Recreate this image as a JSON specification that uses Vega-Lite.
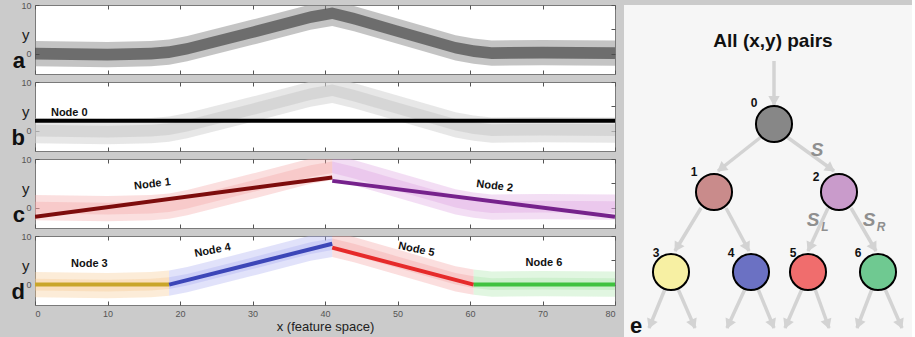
{
  "$schema": "https://vega.github.io/schema/vega-lite/v6.json",
  "padding": {"left": 11, "top": 0, "right": 0, "bottom": 0},
  "background": "#cbcbcb",
  "datasets": {
    "cloud": [
      {"x": 0, "lo": -2.6, "hi": 2.6, "ilo": -1.2, "ihi": 1.2, "c": "1", "d": "3"},
      {"x": 10, "lo": -2.8, "hi": 2.4, "ilo": -1.4, "ihi": 1.0, "c": "1", "d": "3"},
      {"x": 16, "lo": -2.6, "hi": 2.6, "ilo": -1.2, "ihi": 1.2, "c": "1", "d": "3"},
      {"x": 18.5, "lo": -2.3, "hi": 2.9, "ilo": -0.9, "ihi": 1.5, "c": "1", "d": "3"},
      {"x": 18.5, "lo": -2.3, "hi": 2.9, "ilo": -0.9, "ihi": 1.5, "c": "1", "d": "4"},
      {"x": 21, "lo": -1.6, "hi": 3.6, "ilo": -0.2, "ihi": 2.2, "c": "1", "d": "4"},
      {"x": 30, "lo": 1.8, "hi": 7.0, "ilo": 3.2, "ihi": 5.6, "c": "1", "d": "4"},
      {"x": 38, "lo": 4.9, "hi": 10.1, "ilo": 6.3, "ihi": 8.7, "c": "1", "d": "4"},
      {"x": 41, "lo": 5.7, "hi": 10.9, "ilo": 7.1, "ihi": 9.5, "c": "1", "d": "4"},
      {"x": 41, "lo": 5.7, "hi": 10.9, "ilo": 7.1, "ihi": 9.5, "c": "2", "d": "5"},
      {"x": 44, "lo": 4.6, "hi": 9.8, "ilo": 6.0, "ihi": 8.4, "c": "2", "d": "5"},
      {"x": 50, "lo": 2.0, "hi": 7.2, "ilo": 3.4, "ihi": 5.8, "c": "2", "d": "5"},
      {"x": 58, "lo": -1.4, "hi": 3.8, "ilo": 0.0, "ihi": 2.4, "c": "2", "d": "5"},
      {"x": 60.5, "lo": -2.1, "hi": 3.1, "ilo": -0.7, "ihi": 1.7, "c": "2", "d": "5"},
      {"x": 60.5, "lo": -2.1, "hi": 3.1, "ilo": -0.7, "ihi": 1.7, "c": "2", "d": "6"},
      {"x": 63, "lo": -2.5, "hi": 2.7, "ilo": -1.1, "ihi": 1.3, "c": "2", "d": "6"},
      {"x": 70, "lo": -2.4, "hi": 2.8, "ilo": -1.0, "ihi": 1.4, "c": "2", "d": "6"},
      {"x": 80, "lo": -2.5, "hi": 2.7, "ilo": -1.1, "ihi": 1.3, "c": "2", "d": "6"}
    ],
    "fits": [
      {"node": "0", "x": 0, "y": 2.0},
      {"node": "0", "x": 80, "y": 2.0},
      {"node": "1", "x": 0, "y": -1.9},
      {"node": "1", "x": 41, "y": 6.2},
      {"node": "2", "x": 41, "y": 5.5},
      {"node": "2", "x": 80, "y": -1.9},
      {"node": "3", "x": 0, "y": 0},
      {"node": "3", "x": 18.5, "y": 0},
      {"node": "4", "x": 18.5, "y": 0},
      {"node": "4", "x": 41, "y": 8.4},
      {"node": "5", "x": 41, "y": 7.6},
      {"node": "5", "x": 60.5, "y": 0},
      {"node": "6", "x": 60.5, "y": 0},
      {"node": "6", "x": 80, "y": 0}
    ],
    "labels": [
      {"t": "Node 0", "x": 2.2, "y": 3.7},
      {"t": "Node 1", "x": 16.2, "y": 4.8},
      {"t": "Node 2", "x": 63.4, "y": 4.4},
      {"t": "Node 3", "x": 7.5, "y": 4.2},
      {"t": "Node 4", "x": 24.5, "y": 7.0},
      {"t": "Node 5", "x": 52.6, "y": 7.2},
      {"t": "Node 6", "x": 70.2, "y": 4.4}
    ],
    "tnodes": [
      {"id": "0", "x": 150, "y": 119},
      {"id": "1", "x": 90, "y": 187},
      {"id": "2", "x": 215, "y": 187},
      {"id": "3", "x": 47, "y": 267},
      {"id": "4", "x": 127, "y": 267},
      {"id": "5", "x": 184, "y": 267},
      {"id": "6", "x": 254, "y": 267}
    ],
    "tnlabels": [
      {"t": "0", "x": 130, "y": 98},
      {"t": "1", "x": 70, "y": 167},
      {"t": "2", "x": 192, "y": 172},
      {"t": "3", "x": 32, "y": 248},
      {"t": "4", "x": 107, "y": 248},
      {"t": "5", "x": 169, "y": 248},
      {"t": "6", "x": 234, "y": 248}
    ],
    "tarrows": [
      {"x": 150, "y": 56, "x2": 150, "y2": 100},
      {"x": 137, "y": 132, "x2": 94, "y2": 166},
      {"x": 163, "y": 132, "x2": 210, "y2": 166},
      {"x": 77, "y": 203, "x2": 51, "y2": 246},
      {"x": 102, "y": 203, "x2": 125, "y2": 246},
      {"x": 204, "y": 203, "x2": 184, "y2": 246},
      {"x": 227, "y": 203, "x2": 252, "y2": 246},
      {"x": 41, "y": 284, "x2": 25, "y2": 323},
      {"x": 54, "y": 284, "x2": 71, "y2": 323},
      {"x": 121, "y": 284, "x2": 103, "y2": 323},
      {"x": 134, "y": 284, "x2": 150, "y2": 323},
      {"x": 178, "y": 284, "x2": 161, "y2": 323},
      {"x": 191, "y": 284, "x2": 205, "y2": 323},
      {"x": 248, "y": 284, "x2": 233, "y2": 323},
      {"x": 261, "y": 284, "x2": 278, "y2": 323}
    ]
  },
  "spacing": 5,
  "resolve": {"scale": {"fill": "independent", "stroke": "independent"}},
  "hconcat": [
    {
      "spacing": 2,
      "resolve": {"scale": {"fill": "independent", "stroke": "independent"}},
      "vconcat": [
        {
          "width": 580, "height": 69,
          "title": {"text": "a"},
          "resolve": {"axis": {"x": "independent", "y": "independent"}},
          "layer": [
            {
              "encoding": {
                "x": {"field": "x", "type": "quantitative", "scale": {"domain": [0, 80], "nice": false}, "axis": {"values": [0, 10, 20, 30, 40, 50, 60, 70, 80], "labels": false, "title": null}}
              },
              "layer": [
                {
                  "data": {"name": "cloud"},
                  "mark": {"type": "area", "color": "#8a8a8a", "opacity": 0.5, "clip": true},
                  "encoding": {
                    "y": {"field": "lo", "type": "quantitative", "title": "y", "scale": {"domain": [-4.2, 10], "nice": false}, "axis": {"values": [0, 5, 10]}},
                    "y2": {"field": "hi"}
                  }
                },
                {
                  "data": {"name": "cloud"},
                  "mark": {"type": "area", "color": "#333333", "opacity": 0.6, "clip": true},
                  "encoding": {
                    "y": {"field": "ilo", "type": "quantitative", "title": "y"},
                    "y2": {"field": "ihi"}
                  }
                }
              ]
            },
            {
              "data": {"name": "fits"},
              "mark": {"type": "point", "opacity": 0},
              "encoding": {
                "x": {"field": "x", "type": "quantitative", "axis": {"orient": "top", "values": [0, 10, 20, 30, 40, 50, 60, 70, 80], "labels": false, "title": null}},
                "y": {"field": "y", "type": "quantitative", "axis": {"orient": "right", "values": [0, 5, 10], "labels": false, "title": null}}
              }
            }
          ]
        },
        {
          "width": 580, "height": 69,
          "title": {"text": "b"},
          "resolve": {"axis": {"x": "independent", "y": "independent"}},
          "layer": [
            {
              "encoding": {
                "x": {"field": "x", "type": "quantitative", "scale": {"domain": [0, 80], "nice": false}, "axis": {"values": [0, 10, 20, 30, 40, 50, 60, 70, 80], "labels": false, "title": null}}
              },
              "layer": [
                {
                  "data": {"name": "cloud"},
                  "mark": {"type": "area", "color": "#d4d4d4", "opacity": 0.55, "clip": true},
                  "encoding": {
                    "y": {"field": "lo", "type": "quantitative", "title": "y", "scale": {"domain": [-4.2, 10], "nice": false}, "axis": {"values": [0, 5, 10]}},
                    "y2": {"field": "hi"}
                  }
                },
                {
                  "data": {"name": "cloud"},
                  "mark": {"type": "area", "color": "#bdbdbd", "opacity": 0.4, "clip": true},
                  "encoding": {
                    "y": {"field": "ilo", "type": "quantitative", "title": "y"},
                    "y2": {"field": "ihi"}
                  }
                },
                {
                  "data": {"name": "fits"},
                  "transform": [{"filter": "datum.node == '0'"}],
                  "mark": {"type": "line", "color": "#000000", "strokeWidth": 4, "clip": true},
                  "encoding": {
                    "y": {"field": "y", "type": "quantitative", "title": "y"}
                  }
                },
                {
                  "data": {"name": "labels"},
                  "transform": [{"filter": "datum.t == 'Node 0'"}],
                  "mark": {"type": "text", "font": "Liberation Sans", "fontWeight": "bold", "fontSize": 11, "align": "left", "color": "#111"},
                  "encoding": {
                    "y": {"field": "y", "type": "quantitative", "title": "y"},
                    "text": {"field": "t"}
                  }
                }
              ]
            },
            {
              "data": {"name": "fits"},
              "mark": {"type": "point", "opacity": 0},
              "encoding": {
                "x": {"field": "x", "type": "quantitative", "axis": {"orient": "top", "values": [0, 10, 20, 30, 40, 50, 60, 70, 80], "labels": false, "title": null}},
                "y": {"field": "y", "type": "quantitative", "axis": {"orient": "right", "values": [0, 5, 10], "labels": false, "title": null}}
              }
            }
          ]
        },
        {
          "width": 580, "height": 69,
          "title": {"text": "c"},
          "resolve": {"axis": {"x": "independent", "y": "independent"}},
          "layer": [
            {
              "encoding": {
                "x": {"field": "x", "type": "quantitative", "scale": {"domain": [0, 80], "nice": false}, "axis": {"values": [0, 10, 20, 30, 40, 50, 60, 70, 80], "labels": false, "title": null}}
              },
              "layer": [
                {
                  "data": {"name": "cloud"},
                  "mark": {"type": "area", "opacity": 0.35, "clip": true},
                  "encoding": {
                    "y": {"field": "lo", "type": "quantitative", "title": "y", "scale": {"domain": [-4.2, 10], "nice": false}, "axis": {"values": [0, 5, 10]}},
                    "y2": {"field": "hi"},
                    "fill": {"field": "c", "type": "nominal", "scale": {"domain": ["1", "2"], "range": ["#f4a4a4", "#dea0e0"]}, "legend": null}
                  }
                },
                {
                  "data": {"name": "cloud"},
                  "mark": {"type": "area", "opacity": 0.35, "clip": true},
                  "encoding": {
                    "y": {"field": "ilo", "type": "quantitative", "title": "y"},
                    "y2": {"field": "ihi"},
                    "fill": {"field": "c", "type": "nominal", "legend": null}
                  }
                },
                {
                  "data": {"name": "fits"},
                  "transform": [{"filter": "datum.node == '1' || datum.node == '2'"}],
                  "mark": {"type": "line", "strokeWidth": 4, "clip": true},
                  "encoding": {
                    "y": {"field": "y", "type": "quantitative", "title": "y"},
                    "stroke": {"field": "node", "type": "nominal", "scale": {"domain": ["1", "2"], "range": ["#7d0c0c", "#76228c"]}, "legend": null}
                  }
                },
                {
                  "data": {"name": "labels"},
                  "transform": [{"filter": "datum.t == 'Node 1'"}],
                  "mark": {"type": "text", "font": "Liberation Sans", "fontWeight": "bold", "fontSize": 11, "angle": -7, "color": "#111"},
                  "encoding": {
                    "y": {"field": "y", "type": "quantitative", "title": "y"},
                    "text": {"field": "t"}
                  }
                },
                {
                  "data": {"name": "labels"},
                  "transform": [{"filter": "datum.t == 'Node 2'"}],
                  "mark": {"type": "text", "font": "Liberation Sans", "fontWeight": "bold", "fontSize": 11, "angle": 7, "color": "#111"},
                  "encoding": {
                    "y": {"field": "y", "type": "quantitative", "title": "y"},
                    "text": {"field": "t"}
                  }
                }
              ]
            },
            {
              "data": {"name": "fits"},
              "mark": {"type": "point", "opacity": 0},
              "encoding": {
                "x": {"field": "x", "type": "quantitative", "axis": {"orient": "top", "values": [0, 10, 20, 30, 40, 50, 60, 70, 80], "labels": false, "title": null}},
                "y": {"field": "y", "type": "quantitative", "axis": {"orient": "right", "values": [0, 5, 10], "labels": false, "title": null}}
              }
            }
          ]
        },
        {
          "width": 580, "height": 69,
          "title": {"text": "d"},
          "resolve": {"axis": {"x": "independent", "y": "independent"}},
          "layer": [
            {
              "encoding": {
                "x": {"field": "x", "type": "quantitative", "scale": {"domain": [0, 80], "nice": false}, "axis": {"values": [0, 10, 20, 30, 40, 50, 60, 70, 80], "title": "x (feature space)"}}
              },
              "layer": [
                {
                  "data": {"name": "cloud"},
                  "mark": {"type": "area", "opacity": 0.35, "clip": true},
                  "encoding": {
                    "y": {"field": "lo", "type": "quantitative", "title": "y", "scale": {"domain": [-4.2, 10], "nice": false}, "axis": {"values": [0, 5, 10]}},
                    "y2": {"field": "hi"},
                    "fill": {"field": "d", "type": "nominal", "scale": {"domain": ["3", "4", "5", "6"], "range": ["#f6c890", "#a8acf0", "#f4a0a0", "#a8e6a8"]}, "legend": null}
                  }
                },
                {
                  "data": {"name": "cloud"},
                  "mark": {"type": "area", "opacity": 0.35, "clip": true},
                  "encoding": {
                    "y": {"field": "ilo", "type": "quantitative", "title": "y"},
                    "y2": {"field": "ihi"},
                    "fill": {"field": "d", "type": "nominal", "legend": null}
                  }
                },
                {
                  "data": {"name": "fits"},
                  "transform": [{"filter": "datum.node >= '3'"}],
                  "mark": {"type": "line", "strokeWidth": 4, "clip": true},
                  "encoding": {
                    "y": {"field": "y", "type": "quantitative", "title": "y"},
                    "stroke": {"field": "node", "type": "nominal", "scale": {"domain": ["3", "4", "5", "6"], "range": ["#c9a52a", "#3c46b8", "#e62a2a", "#3fc23f"]}, "legend": null}
                  }
                },
                {
                  "data": {"name": "labels"},
                  "transform": [{"filter": "datum.t == 'Node 3' || datum.t == 'Node 6'"}],
                  "mark": {"type": "text", "font": "Liberation Sans", "fontWeight": "bold", "fontSize": 11, "color": "#111"},
                  "encoding": {
                    "y": {"field": "y", "type": "quantitative", "title": "y"},
                    "text": {"field": "t"}
                  }
                },
                {
                  "data": {"name": "labels"},
                  "transform": [{"filter": "datum.t == 'Node 4'"}],
                  "mark": {"type": "text", "font": "Liberation Sans", "fontWeight": "bold", "fontSize": 11, "angle": -11, "color": "#111"},
                  "encoding": {
                    "y": {"field": "y", "type": "quantitative", "title": "y"},
                    "text": {"field": "t"}
                  }
                },
                {
                  "data": {"name": "labels"},
                  "transform": [{"filter": "datum.t == 'Node 5'"}],
                  "mark": {"type": "text", "font": "Liberation Sans", "fontWeight": "bold", "fontSize": 11, "angle": 12, "color": "#111"},
                  "encoding": {
                    "y": {"field": "y", "type": "quantitative", "title": "y"},
                    "text": {"field": "t"}
                  }
                }
              ]
            },
            {
              "data": {"name": "fits"},
              "mark": {"type": "point", "opacity": 0},
              "encoding": {
                "x": {"field": "x", "type": "quantitative", "axis": {"orient": "top", "values": [0, 10, 20, 30, 40, 50, 60, 70, 80], "labels": false, "title": null}},
                "y": {"field": "y", "type": "quantitative", "axis": {"orient": "right", "values": [0, 5, 10], "labels": false, "title": null}}
              }
            }
          ]
        }
      ]
    },
    {
      "width": 288, "height": 337,
      "view": {"fill": "#f6f6f6", "stroke": null},
      "layer": [
        {
          "data": {"name": "tarrows"},
          "mark": {"type": "rule", "color": "#d3d3d3", "strokeWidth": 3.5},
          "encoding": {
            "x": {"field": "x", "type": "quantitative", "scale": {"domain": [0, 288], "nice": false, "zero": false}, "axis": null},
            "y": {"field": "y", "type": "quantitative", "scale": {"domain": [0, 337], "nice": false, "zero": false, "reverse": true}, "axis": null},
            "x2": {"field": "x2"},
            "y2": {"field": "y2"}
          }
        },
        {
          "data": {"name": "tarrows"},
          "transform": [
            {"calculate": "sqrt((datum.x2-datum.x)*(datum.x2-datum.x)+(datum.y2-datum.y)*(datum.y2-datum.y))", "as": "len"},
            {"calculate": "datum.x2 - 4*(datum.x2-datum.x)/datum.len", "as": "hx"},
            {"calculate": "datum.y2 - 4*(datum.y2-datum.y)/datum.len", "as": "hy"},
            {"calculate": "atan2(-(datum.x2-datum.x), datum.y2-datum.y)*180/PI", "as": "ang"}
          ],
          "mark": {"type": "point", "shape": "triangle-down", "filled": true, "color": "#d3d3d3", "opacity": 1, "size": 130},
          "encoding": {
            "x": {"field": "hx", "type": "quantitative", "axis": null},
            "y": {"field": "hy", "type": "quantitative", "axis": null},
            "angle": {"field": "ang", "type": "quantitative", "scale": null}
          }
        },
        {
          "data": {"name": "tnodes"},
          "mark": {"type": "point", "shape": "circle", "filled": true, "opacity": 1, "size": 1300, "stroke": "#000000", "strokeWidth": 2},
          "encoding": {
            "x": {"field": "x", "type": "quantitative", "axis": null},
            "y": {"field": "y", "type": "quantitative", "axis": null},
            "fill": {"field": "id", "type": "nominal", "scale": {"domain": ["0", "1", "2", "3", "4", "5", "6"], "range": ["#878787", "#c98b8b", "#c99bcb", "#f7f0a3", "#6b71c3", "#f06d6d", "#6fc991"]}, "legend": null}
          }
        },
        {
          "data": {"name": "tnlabels"},
          "mark": {"type": "text", "font": "Liberation Sans", "fontWeight": "bold", "fontSize": 12, "color": "#111"},
          "encoding": {
            "x": {"field": "x", "type": "quantitative", "axis": null},
            "y": {"field": "y", "type": "quantitative", "axis": null},
            "text": {"field": "t"}
          }
        },
        {
          "data": {"values": [{"t": "All (x,y) pairs", "x": 149, "y": 36}]},
          "mark": {"type": "text", "font": "Liberation Sans", "fontWeight": "bold", "fontSize": 19, "color": "#111"},
          "encoding": {
            "x": {"field": "x", "type": "quantitative", "axis": null},
            "y": {"field": "y", "type": "quantitative", "axis": null},
            "text": {"field": "t"}
          }
        },
        {
          "data": {"values": [{"t": "S", "x": 193, "y": 145}, {"t": "S", "x": 189, "y": 215}, {"t": "S", "x": 245, "y": 215}]},
          "mark": {"type": "text", "font": "Liberation Sans", "fontWeight": "bold", "fontStyle": "italic", "fontSize": 19, "color": "#8f8f8f"},
          "encoding": {
            "x": {"field": "x", "type": "quantitative", "axis": null},
            "y": {"field": "y", "type": "quantitative", "axis": null},
            "text": {"field": "t"}
          }
        },
        {
          "data": {"values": [{"t": "L", "x": 201, "y": 222}, {"t": "R", "x": 257, "y": 222}]},
          "mark": {"type": "text", "font": "Liberation Sans", "fontWeight": "bold", "fontStyle": "italic", "fontSize": 12, "color": "#8f8f8f"},
          "encoding": {
            "x": {"field": "x", "type": "quantitative", "axis": null},
            "y": {"field": "y", "type": "quantitative", "axis": null},
            "text": {"field": "t"}
          }
        },
        {
          "data": {"values": [{"t": "e", "x": 12, "y": 321}]},
          "mark": {"type": "text", "font": "Liberation Sans", "fontWeight": "bold", "fontSize": 22, "color": "#111"},
          "encoding": {
            "x": {"field": "x", "type": "quantitative", "axis": null},
            "y": {"field": "y", "type": "quantitative", "axis": null},
            "text": {"field": "t"}
          }
        }
      ]
    }
  ],
  "config": {
    "view": {"stroke": "#7a7a7a", "fill": "#ffffff"},
    "axis": {"grid": false, "domain": false, "tickColor": "#555555", "tickSize": -4, "labelColor": "#555555", "labelFont": "Liberation Sans", "labelFontSize": 9, "labelPadding": 8, "titleFont": "Liberation Sans", "titleFontWeight": "normal", "titleColor": "#222222", "titleFontSize": 13},
    "axisY": {"titleAngle": 0, "titleBaseline": "middle", "titleAlign": "right", "titleX": -6, "titleFontSize": 15, "titleY": 29},
    "axisX": {"titlePadding": 2},
    "title": {"orient": "left", "anchor": "start", "frame": "group", "angle": 0, "align": "right", "baseline": "bottom", "dy": -23, "font": "Liberation Sans", "fontWeight": "bold", "fontSize": 22, "color": "#111111", "offset": -4}
  }
}
